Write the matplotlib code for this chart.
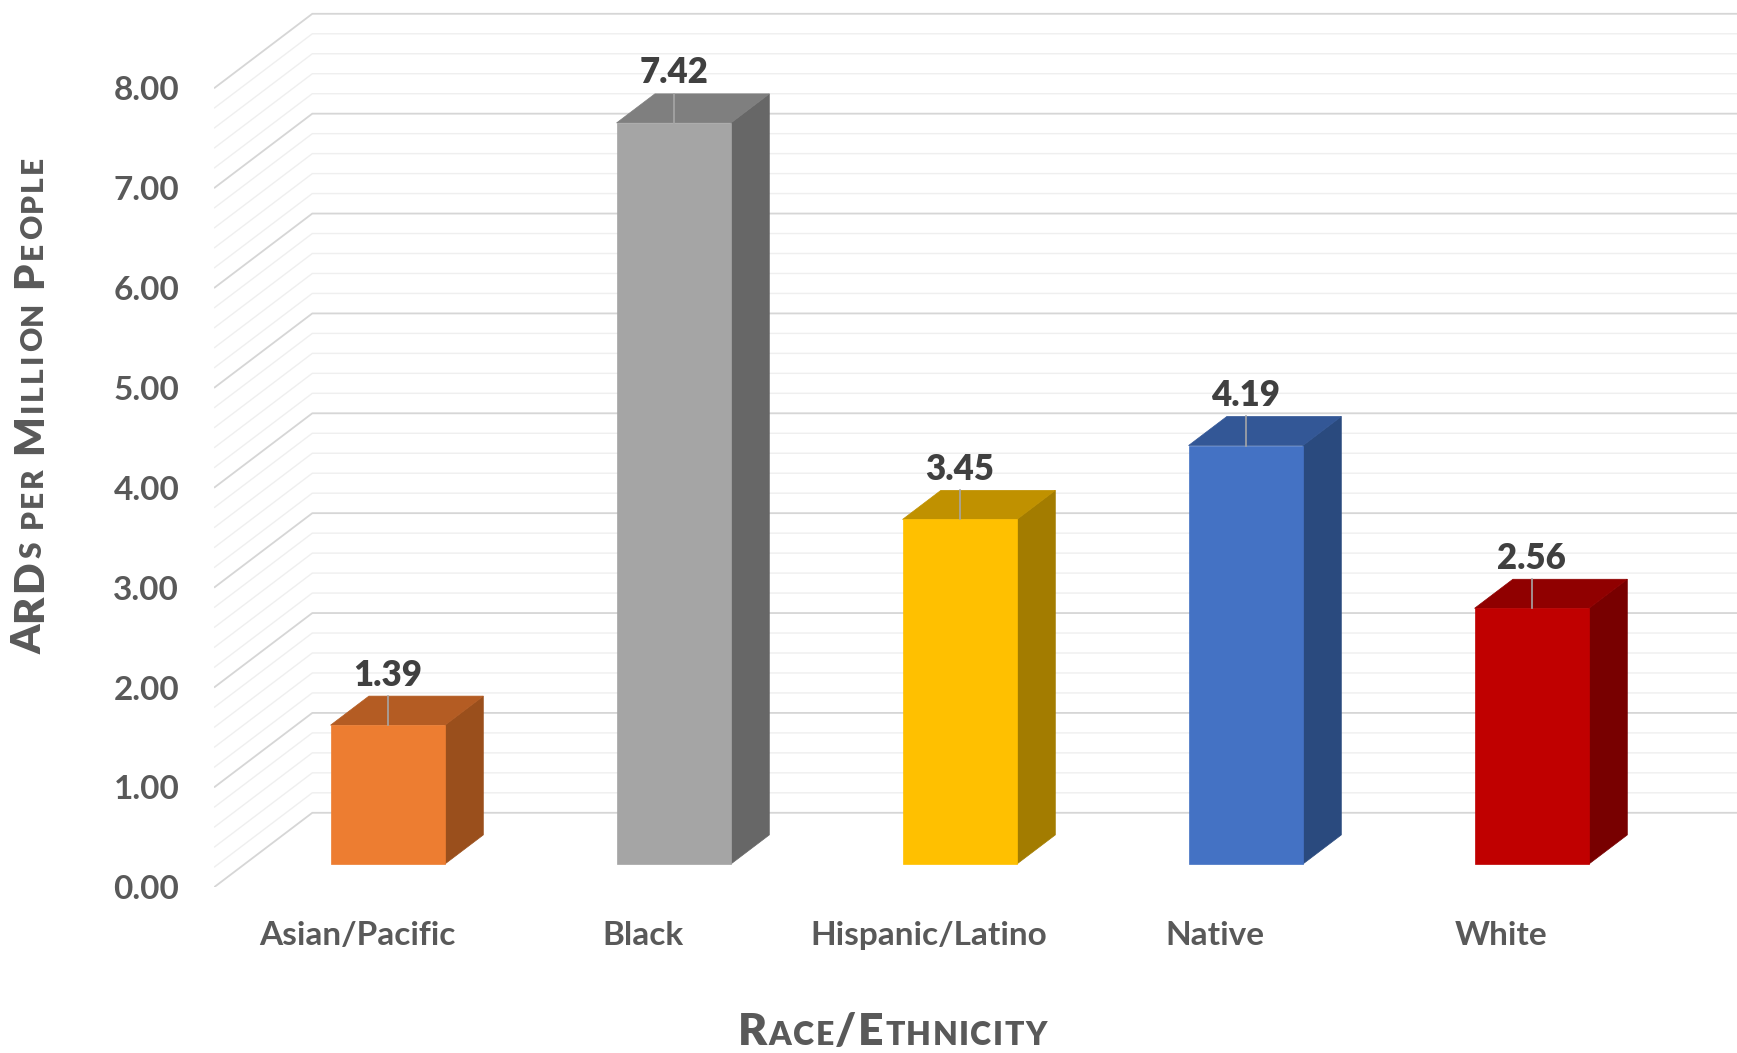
import matplotlib
matplotlib.use('Agg')
import numpy as np
from matplotlib import pyplot as plt
from matplotlib.patches import Polygon
from matplotlib.ticker import FormatStrFormatter

plt.rcParams['font.family'] = ['Lato', 'DejaVu Sans']

# ARDs per million people by race/ethnicity
groups = ['Asian/Pacific', 'Black', 'Hispanic/Latino', 'Native', 'White']
rates = [1.39, 7.42, 3.45, 4.19, 2.56]
front_colors = ['#ED7D31', '#A5A5A5', '#FFC000', '#4472C4', '#C00000']
top_colors = ['#B45C23', '#7F7F7F', '#C09100', '#335796', '#900000']
side_colors = ['#9A4F1C', '#676767', '#A37C00', '#2A4A7E', '#780000']
y_ticks = [0, 1, 2, 3, 4, 5, 6, 7, 8]

GREY = '#595959'
DARK = '#404040'

# oblique projection of the depth axis (in data units per full depth)
DX = 0.3437
DY = 0.746
D0 = 0.313     # depth where bar front faces sit
BD = 0.39      # bar depth as fraction of the floor depth
BW = 0.4       # bar width (gap width 150%)

W, H = 1737, 1053
fig = plt.figure(figsize=(W / 100, H / 100), dpi=100)
ax = fig.add_axes([214 / W, (H - 887.3) / H, (W - 214) / W, 887.3 / H])
ax.set_xlim(-0.5, -0.5 + (W - 214) / 286)
ax.set_ylim(0, 887.3 / 99.875)
for s in ax.spines.values():
    s.set_visible(False)

# back wall + side wall gridlines
for v in np.arange(0, 8.01, 0.2):
    major = abs(v - round(v)) < 1e-6
    c = '#D6D6D6' if major else '#EFEFEF'
    lw = 1.3 if major else 1.0
    ax.plot([-0.5, -0.5 + DX, 4.5 + DX], [v, v + DY, v + DY],
            color=c, lw=lw, zorder=1 if not major else 1.5, solid_capstyle='butt')

# 3d-looking columns
for i, (val, fc, tc, sc) in enumerate(zip(rates, front_colors, top_colors, side_colors)):
    x0 = i - BW / 2 + D0 * DX
    x1 = i + BW / 2 + D0 * DX
    y0 = D0 * DY
    dx, dy = BD * DX, BD * DY
    front = [(x0, y0), (x1, y0), (x1, y0 + val), (x0, y0 + val)]
    top = [(x0, y0 + val), (x1, y0 + val), (x1 + dx, y0 + val + dy), (x0 + dx, y0 + val + dy)]
    side = [(x1, y0), (x1 + dx, y0 + dy), (x1 + dx, y0 + val + dy), (x1, y0 + val)]
    ax.add_patch(Polygon(side, closed=True, fc=sc, ec=sc, lw=0.5, zorder=3))
    ax.add_patch(Polygon(top, closed=True, fc=tc, ec=tc, lw=0.5, zorder=3))
    ax.add_patch(Polygon(front, closed=True, fc=fc, ec=fc, lw=0.5, zorder=4))
    xc = i + D0 * DX
    ax.plot([xc, xc], [y0 + val, y0 + val + dy], color='#A6A6A6', lw=1.2, zorder=5)
    ax.text(xc, y0 + val + 0.5, f'{val:.2f}', ha='center', va='center',
            fontsize=25, fontweight='heavy', color=DARK, zorder=6)

ax.set_yticks(y_ticks)
ax.yaxis.set_major_formatter(FormatStrFormatter('%.2f'))
ax.tick_params(axis='y', length=0, pad=25, labelsize=24, labelcolor=GREY)
for t in ax.get_yticklabels():
    t.set_fontweight('bold')

ax.set_xticks(range(len(groups)), groups, va='baseline', fontweight='bold')
ax.tick_params(axis='x', length=0, pad=41.5, labelsize=24, labelcolor=GREY)


def caps_title(pieces, center, base, rotation, track=0.0):
    """Lay out small-caps letters along one baseline, centred on `center` (pixels).
    pieces: (text, size) pairs; text None means a word gap of `size` pixels."""
    r = fig.canvas.get_renderer()
    arts = []
    for s, size in pieces:
        if s is None:
            arts.append((None, size))
            continue
        for ch in s:
            t = fig.text(0, 0, ch, fontsize=size, fontweight='heavy', color=GREY,
                         rotation=rotation, rotation_mode='anchor',
                         ha='left', va='baseline', transform=None)
            bb = t.get_window_extent(r)
            arts.append((t, (bb.height if rotation else bb.width) + track))
    total = sum(a for _, a in arts) - track
    pos = center - total / 2
    for t, adv in arts:
        if t is not None:
            t.set_position((base, pos) if rotation else (pos, base))
        pos += adv


BIG, SMALL = 30, 21.5
caps_title([('ARD', BIG), ('S', SMALL), (None, 11), ('PER', SMALL), (None, 11),
            ('M', BIG), ('ILLION', SMALL), (None, 11), ('P', BIG), ('EOPLE', SMALL)],
           center=H - 405, base=42, rotation=90, track=2.5)
caps_title([('R', 32), ('ACE', 23), ('/', 32), ('E', 32), ('THNICITY', 23)],
           center=892.4, base=H - 1045, rotation=0, track=1.5)

fig.savefig('out.png', dpi=100, facecolor='white')
